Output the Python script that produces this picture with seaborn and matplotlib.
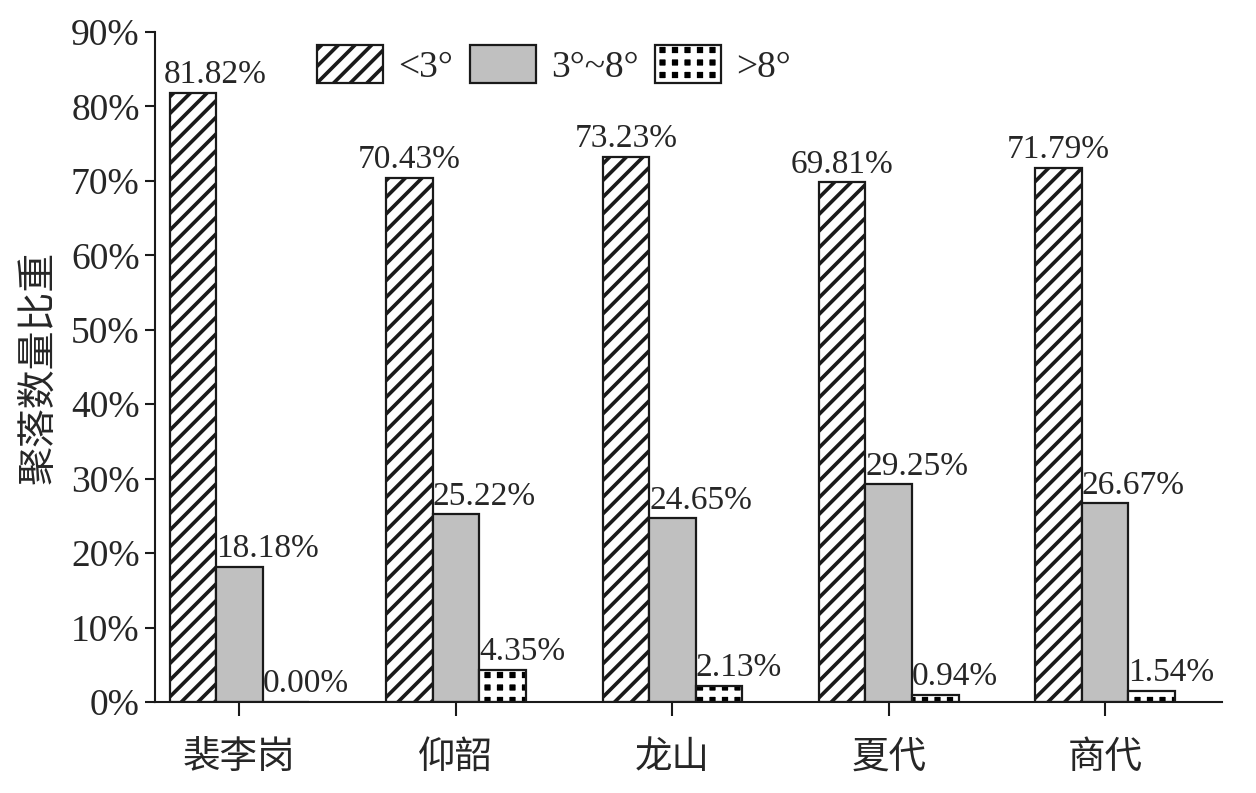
import numpy as np
import matplotlib
matplotlib.use('Agg')
import matplotlib.pyplot as plt
import pandas as pd
import seaborn as sns

# Data
periods = ['裴李岗', '仰韶', '龙山', '夏代', '商代']
slope_levels = ['<3°', '3°~8°', '>8°']
below_3 = [81.82, 70.43, 73.23, 69.81, 71.79]
between_3_8 = [18.18, 25.22, 24.65, 29.25, 26.67]
above_8 = [0.00, 4.35, 2.13, 0.94, 1.54]
y_ticks = [0, 10, 20, 30, 40, 50, 60, 70, 80, 90]

df = pd.DataFrame({
    'period': periods * 3,
    'slope': np.repeat(slope_levels, len(periods)),
    'share': below_3 + between_3_8 + above_8,
})

# figure is rendered at 150 dpi so the hatch patterns come out coarser;
# all point sizes below are given in "100 dpi points" and scaled by S
DPI = 150
S = 100 / DPI

sns.set_style('ticks')
plt.rcParams['font.family'] = ['Liberation Serif', 'Noto Sans CJK SC']
plt.rcParams['hatch.linewidth'] = 1.75
plt.rcParams['axes.unicode_minus'] = False

fig, ax = plt.subplots(figsize=(1256 / DPI, 793 / DPI), dpi=DPI)
fig.subplots_adjust(left=0.1234, right=0.973, bottom=0.1148, top=0.9596)

sns.barplot(data=df, x='period', y='share', hue='slope', order=periods,
            hue_order=slope_levels, palette=['white', '#c0c0c0', 'black'],
            width=0.645, saturation=1, legend=False, ax=ax,
            edgecolor='#1a1a1a', linewidth=1.6 * S)


def set_hatch(bar, pattern, color, lw):
    bar.set_hatch(pattern)
    if hasattr(bar, 'set_hatch_linewidth'):
        bar.set_hatch_linewidth(lw)
    if hasattr(bar, 'set_hatchcolor'):
        bar.set_hatchcolor(color)
    else:
        bar._hatch_color = matplotlib.colors.to_rgba(color)


# hatching: diagonal stripes for <3, black squares on white grid for >8
hatch_styles = [('///', '#1a1a1a', 1.75), None, ('++', 'white', 3.0)]
for cont, style in zip(ax.containers, hatch_styles):
    if style is None:
        continue
    for bar in cont:
        set_hatch(bar, *style)

# value labels
fs_lab = 24 * S
for i, cont in enumerate(ax.containers):
    for j, bar in enumerate(cont):
        h = bar.get_height()
        txt = f'{h:.2f}%'
        if i == 0 and j == 0:
            ax.annotate(txt, (bar.get_x(), h), xytext=(-4 * S, 7 * S), textcoords='offset points',
                        ha='left', va='baseline', fontsize=fs_lab)
        elif i == 0:
            ax.annotate(txt, (bar.get_x() + bar.get_width() / 2, h), xytext=(0, 7 * S),
                        textcoords='offset points', ha='center', va='baseline', fontsize=fs_lab)
        else:
            ax.annotate(txt, (bar.get_x(), h), xytext=(0, 7 * S), textcoords='offset points',
                        ha='left', va='baseline', fontsize=fs_lab)

ax.set_ylim(0, 90)
ax.set_xlim(-0.39, 4.54)
ax.set_yticks(y_ticks)
ax.set_yticklabels([f'{v}%' for v in y_ticks], fontsize=27 * S)
ax.set_xticks(range(len(periods)))
ax.set_xticklabels(periods, fontsize=27 * S)
ax.set_xlabel('')
ax.set_ylabel('聚落数量比重', fontsize=28 * S, labelpad=8 * S)

for s in ['top', 'right']:
    ax.spines[s].set_visible(False)
for s in ['left', 'bottom']:
    ax.spines[s].set_linewidth(1.5 * S)
    ax.spines[s].set_color('#1a1a1a')
ax.tick_params(axis='y', length=7 * S, width=1.5 * S, pad=4 * S, color='#1a1a1a')
ax.tick_params(axis='x', length=10 * S, width=1.5 * S, pad=18 * S, color='#1a1a1a')

handles = [cont[1] for cont in ax.containers]
leg = ax.legend(handles, slope_levels, loc='upper left', bbox_to_anchor=(0.152, 0.98),
                ncol=3, frameon=False, fontsize=27 * S, handlelength=1.76, handleheight=1.15,
                handletextpad=0.4, columnspacing=0.45, borderpad=0, borderaxespad=0)
for lh, style in zip(leg.legend_handles, hatch_styles):
    if style is not None:
        set_hatch(lh, *style)

fig.savefig('out.png', dpi=DPI)
